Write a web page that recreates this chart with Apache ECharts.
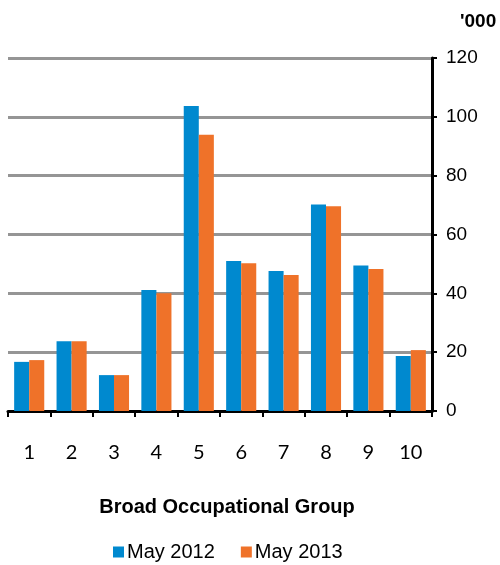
<!DOCTYPE html>
<html>
<head>
    <meta charset="utf-8">
    <title>Broad Occupational Group</title>
    <script src="https://cdn.jsdelivr.net/npm/echarts@6.0.0/dist/echarts.min.js"></script>
    <style>
        body { margin: 0; background: #fff; }
        #chart { width: 500px; height: 565px; }
    </style>
</head>
<body>
    <div id="chart"></div>
    <script>
        // Data (thousands)
        const groups = ['1', '2', '3', '4', '5', '6', '7', '8', '9', '10'];
        const may2012 = [16.7, 23.7, 12.2, 41.1, 103.7, 51.0, 47.6, 70.2, 49.5, 18.7];
        const may2013 = [17.3, 23.7, 12.2, 40.0, 93.9, 50.2, 46.2, 69.6, 48.3, 20.7];

        const chart = echarts.init(document.getElementById('chart'));

        chart.setOption({
            animation: false,
            backgroundColor: '#fff',
            grid: { left: 8, right: 68, top: 58, bottom: 154 },
            graphic: [{
                type: 'text',
                left: 460,
                top: 12,
                style: { text: "'000", font: 'bold 19px "Liberation Sans", Arial', fill: '#000' }
            }],
            legend: {
                top: 537,
                left: 108,
                itemWidth: 11,
                itemHeight: 11,
                itemGap: 26,
                icon: 'rect',
                textStyle: { fontFamily: '"Liberation Sans", Arial', fontSize: 20, color: '#000', padding: [0, 0, 0, -2] },
                data: ['May 2012', 'May 2013']
            },
            xAxis: {
                type: 'category',
                data: groups,
                name: 'Broad Occupational Group',
                nameLocation: 'middle',
                nameGap: 86,
                nameTextStyle: { fontFamily: '"Liberation Sans", Arial', fontWeight: 'bold', fontSize: 20, color: '#000', padding: [0, 0, 0, 14] },
                axisLine: { lineStyle: { color: '#000', width: 3 } },
                axisTick: { show: true, length: 6, lineStyle: { color: '#000', width: 2 } },
                axisLabel: { fontFamily: 'Lato, "Open Sans"', fontSize: 20, color: '#000', margin: 32 }
            },
            yAxis: {
                type: 'value',
                position: 'right',
                min: 0,
                max: 120,
                interval: 20,
                axisLine: { show: true, lineStyle: { color: '#000', width: 3 } },
                axisTick: { show: true, length: 5, lineStyle: { color: '#000', width: 2 } },
                axisLabel: { fontFamily: '"Liberation Sans", Arial', fontSize: 19, color: '#000', margin: 14 },
                splitLine: { lineStyle: { color: '#959595', width: 3 } }
            },
            series: [
                {
                    name: 'May 2012',
                    type: 'bar',
                    data: may2012,
                    barGap: '0%',
                    barCategoryGap: '29%',
                    itemStyle: { color: '#0089cf' }
                },
                {
                    name: 'May 2013',
                    type: 'bar',
                    data: may2013,
                    itemStyle: { color: '#ef7229' }
                }
            ]
        });
    </script>
</body>
</html>
